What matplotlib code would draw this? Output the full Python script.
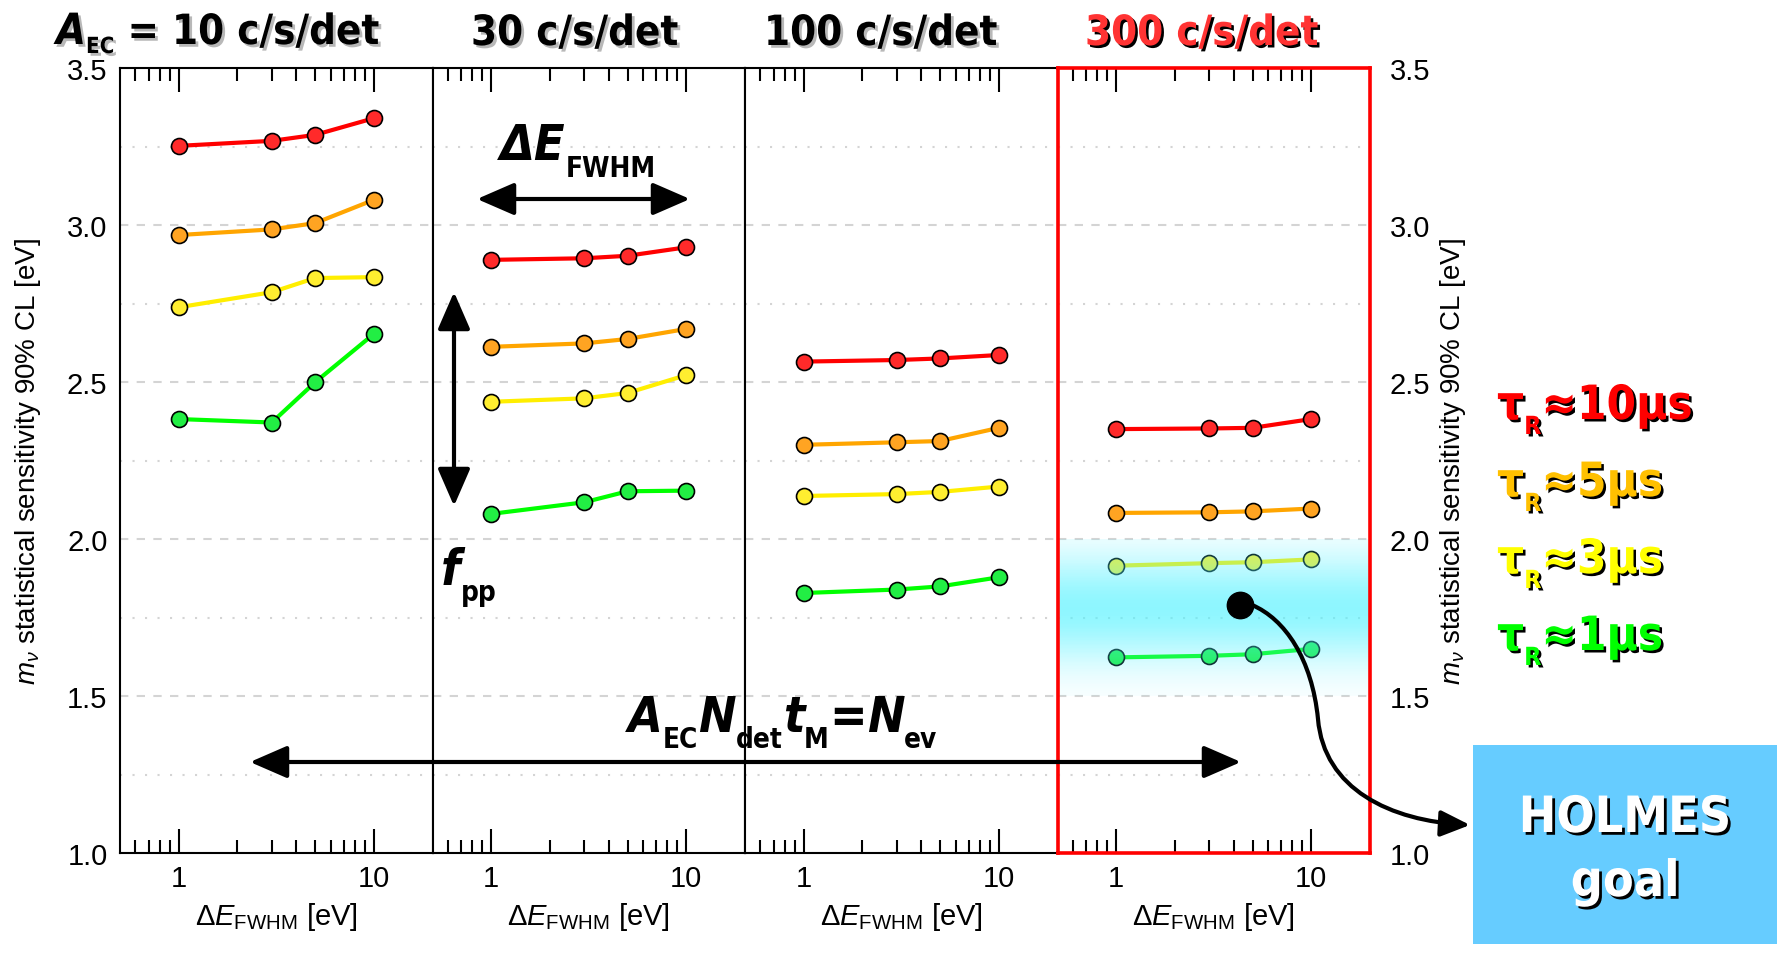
import numpy as np
import matplotlib
matplotlib.use('Agg')
import matplotlib.pyplot as plt
import matplotlib.patheffects as pe
from matplotlib.patches import FancyArrowPatch, Rectangle, ArrowStyle
from matplotlib.path import Path
from matplotlib.ticker import FixedLocator, MultipleLocator, NullFormatter

W, H = 1780, 954

# data
rates = [10, 30, 100, 300]                 # A_EC in c/s/det
fwhm = [1, 3, 5, 10]                       # Delta E_FWHM [eV]
tau_r = ['10', '5', '3', '1']              # rise time in us
sens_r10 = [[3.252, 3.268, 3.287, 3.340],
            [2.968, 2.986, 3.006, 3.080],
            [2.738, 2.786, 2.831, 2.834],
            [2.382, 2.371, 2.499, 2.653]]
sens_r30 = [[2.889, 2.894, 2.902, 2.929],
            [2.612, 2.623, 2.637, 2.669],
            [2.437, 2.448, 2.465, 2.522],
            [2.080, 2.117, 2.152, 2.154]]
sens_r100 = [[2.565, 2.570, 2.575, 2.586],
             [2.300, 2.308, 2.312, 2.354],
             [2.137, 2.143, 2.150, 2.167],
             [1.828, 1.839, 1.849, 1.878]]
sens_r300 = [[2.350, 2.352, 2.354, 2.382],
             [2.083, 2.085, 2.088, 2.097],
             [1.915, 1.923, 1.926, 1.935],
             [1.623, 1.628, 1.633, 1.650]]
goal_band = (1.5, 2.0)
goal_point = (4.3, 1.79)

line_colors = ['#ff0000', '#ffa500', '#ffee00', '#00ff00']
face_colors = ['#ff2a2a', '#ffa422', '#ffee30', '#22ee44']
label_colors = ['#ff0000', '#ffc000', '#ffff00', '#00ff00']

plt.rcParams['font.family'] = ['Liberation Sans', 'DejaVu Sans']
plt.rcParams['mathtext.fontset'] = 'custom'
plt.rcParams['mathtext.rm'] = 'Liberation Sans'
plt.rcParams['mathtext.it'] = 'Liberation Sans:italic'
plt.rcParams['mathtext.bf'] = 'Liberation Sans:bold'

fig = plt.figure(figsize=(W / 100, H / 100), dpi=100)
renderer = fig.canvas.get_renderer()


def fx(x):
    return x / W


def fy(y):
    return 1 - y / H


# four panels side by side
left0, pw = 120, 312.5
top, bottom = 69, 854
axes = []
for i in range(4):
    ax = fig.add_axes([fx(left0 + i * pw), fy(bottom), pw / W, (bottom - top) / H])
    axes.append(ax)

all_sens = [sens_r10, sens_r30, sens_r100, sens_r300]
for i, ax in enumerate(axes):
    for k in range(4):
        ax.plot(fwhm, all_sens[i][k], '-o', color=line_colors[k], lw=3,
                ms=11.5, mfc=face_colors[k], mec='black', mew=1.2, zorder=3)
    ax.set_xscale('log')
    ax.set_xlim(0.5, 20)
    ax.set_ylim(1.0, 3.5)
    ax.xaxis.set_major_locator(FixedLocator([1, 10]))
    ax.xaxis.set_minor_locator(FixedLocator([0.6, 0.7, 0.8, 0.9, 2, 3, 4, 5, 6, 7, 8, 9]))
    ax.xaxis.set_minor_formatter(NullFormatter())
    ax.set_xticklabels(['1', '10'])
    ax.tick_params(axis='x', which='major', direction='in', length=17, width=1.5,
                   top=True, labelsize=21, pad=8)
    ax.tick_params(axis='x', which='minor', direction='in', length=9.5, width=1.5, top=True)
    ax.yaxis.set_major_locator(MultipleLocator(0.5))
    ax.yaxis.set_minor_locator(MultipleLocator(0.25))
    ax.tick_params(axis='y', which='both', length=0, labelsize=21)
    ax.grid(axis='y', which='major', color='#d4d4d4', ls=(0, (4, 4)), lw=1.5, zorder=1)
    ax.grid(axis='y', which='minor', color='#d4d4d4', ls=(0, (1, 5)), lw=1.5, zorder=1)
    ax.set_axisbelow(True)
    ax.set_xlabel(r'$\Delta E_{\mathrm{FWHM}}$ [eV]', fontsize=21, labelpad=6)
    for s in ax.spines.values():
        s.set_linewidth(1.5)
        s.set_zorder(10)
    ax.yaxis.set_major_formatter(plt.FuncFormatter(lambda v, p: f'{v:.1f}'))
    if i == 0:
        ax.tick_params(axis='y', pad=9)
    elif i == 3:
        ax.yaxis.tick_right()
        ax.tick_params(axis='y', pad=14)
    else:
        ax.tick_params(axis='y', labelleft=False)

ax4 = axes[3]
for s in ax4.spines.values():
    s.set_color('red')
    s.set_linewidth(2.6)

# goal band with vertical gradient
ys = np.linspace(goal_band[0], goal_band[1], 121)
for y0, y1 in zip(ys[:-1], ys[1:]):
    ym = 0.5 * (y0 + y1)
    a = 0.63 * np.exp(-((ym - 1.78) / 0.17) ** 2)
    ax4.axhspan(y0, y1, color=(0.3, 0.95, 1.0), alpha=a, lw=0, zorder=4)
ax4.plot([goal_point[0]], [goal_point[1]], 'o', color='black', ms=19, zorder=6)

ylab = r'$m_{\nu}$ statistical sensitivity 90% CL [eV]'
fig.text(fx(28), fy(462), ylab, rotation=90, ha='center', va='center', fontsize=20)
fig.text(fx(1453), fy(462), ylab, rotation=90, ha='center', va='center', fontsize=20)


def rich(x, y, pieces, color='black', effects=None):
    # pieces: (text, size, italic, baseline shift in px)
    for s, size, it, dy in pieces:
        t = fig.text(fx(x), fy(y + dy), s, fontsize=size, fontweight='bold',
                     fontstyle='italic' if it else 'normal',
                     family='DejaVu Sans', fontstretch='condensed',
                     color=color, ha='left', va='baseline', path_effects=effects)
        x += t.get_window_extent(renderer).width
    return x


gray_shadow = [pe.withSimplePatchShadow(offset=(2, -2), shadow_rgbFace='#b8b8b8', alpha=1)]
dark_shadow = [pe.withSimplePatchShadow(offset=(1.8, -1.8), shadow_rgbFace='black', alpha=1)]

# panel titles
rich(56, 45, [('A', 31, True, 0), ('EC', 16, False, 9), (f' = {rates[0]} c/s/det', 30, False, 0)],
     effects=gray_shadow)
title_x = [471, 764, 1085]
for i in range(1, 4):
    col = '#ff3333' if i == 3 else 'black'
    eff = dark_shadow if i == 3 else gray_shadow
    rich(title_x[i - 1], 46, [(f'{rates[i]} c/s/det', 30, False, 0)], color=col, effects=eff)

# annotations
rich(500, 160, [('ΔE', 36, True, 0), ('FWHM', 20, False, 17)])
rich(441, 585, [('f', 36, True, 0), ('pp', 20, False, 16)])
rich(628, 732, [('A', 36, True, 0), ('EC', 20, False, 16), ('N', 36, True, 0),
                ('det', 20, False, 16), ('t', 36, True, 0), ('M', 20, False, 16),
                ('=', 36, False, 0), ('N', 36, True, 0), ('ev', 20, False, 16)])

big = ArrowStyle('<|-|>', head_length=1.15, head_width=0.5)
for a, b in [((250, 763), (1241, 763)), ((477, 200), (690, 200)), ((454, 293), (454, 507))]:
    fig.add_artist(FancyArrowPatch((fx(a[0]), fy(a[1])), (fx(b[0]), fy(b[1])),
                                   transform=fig.transFigure, arrowstyle=big,
                                   mutation_scale=20, lw=3, color='black',
                                   shrinkA=0, shrinkB=0, zorder=20))

# tau_R labels
for k in range(4):
    rich(1497, 420 + 77 * k, [('τ', 34, False, 0), ('R', 18, False, 15), (f'≈{tau_r[k]}μs', 34, False, 0)],
         color=label_colors[k], effects=dark_shadow)

# HOLMES goal box and curved arrow
fig.add_artist(Rectangle((fx(1473), fy(945)), (1777 - 1473) / W, (945 - 746) / H,
                         transform=fig.transFigure, color='#66ccff', lw=0, zorder=5))
for s, y in [('HOLMES', 833), ('goal', 897)]:
    fig.text(fx(1625), fy(y), s, ha='center', va='baseline', fontsize=36, fontweight='bold',
             family='DejaVu Sans', fontstretch='condensed', color='white', zorder=6,
             path_effects=[pe.withSimplePatchShadow(offset=(2, -2), shadow_rgbFace='black', alpha=1)])

pts = [(1252, 606), (1285, 620), (1312, 660), (1318, 720), (1324, 790), (1390, 822), (1470, 826)]
verts = [(fx(x), fy(y)) for x, y in pts]
codes = [Path.MOVETO] + [Path.CURVE4] * 6
fig.add_artist(FancyArrowPatch(path=Path(verts, codes), transform=fig.transFigure,
                               arrowstyle=ArrowStyle('-|>', head_length=0.9, head_width=0.4),
                               mutation_scale=20, lw=3, color='black', zorder=20))

fig.savefig('out.png', dpi=100)
